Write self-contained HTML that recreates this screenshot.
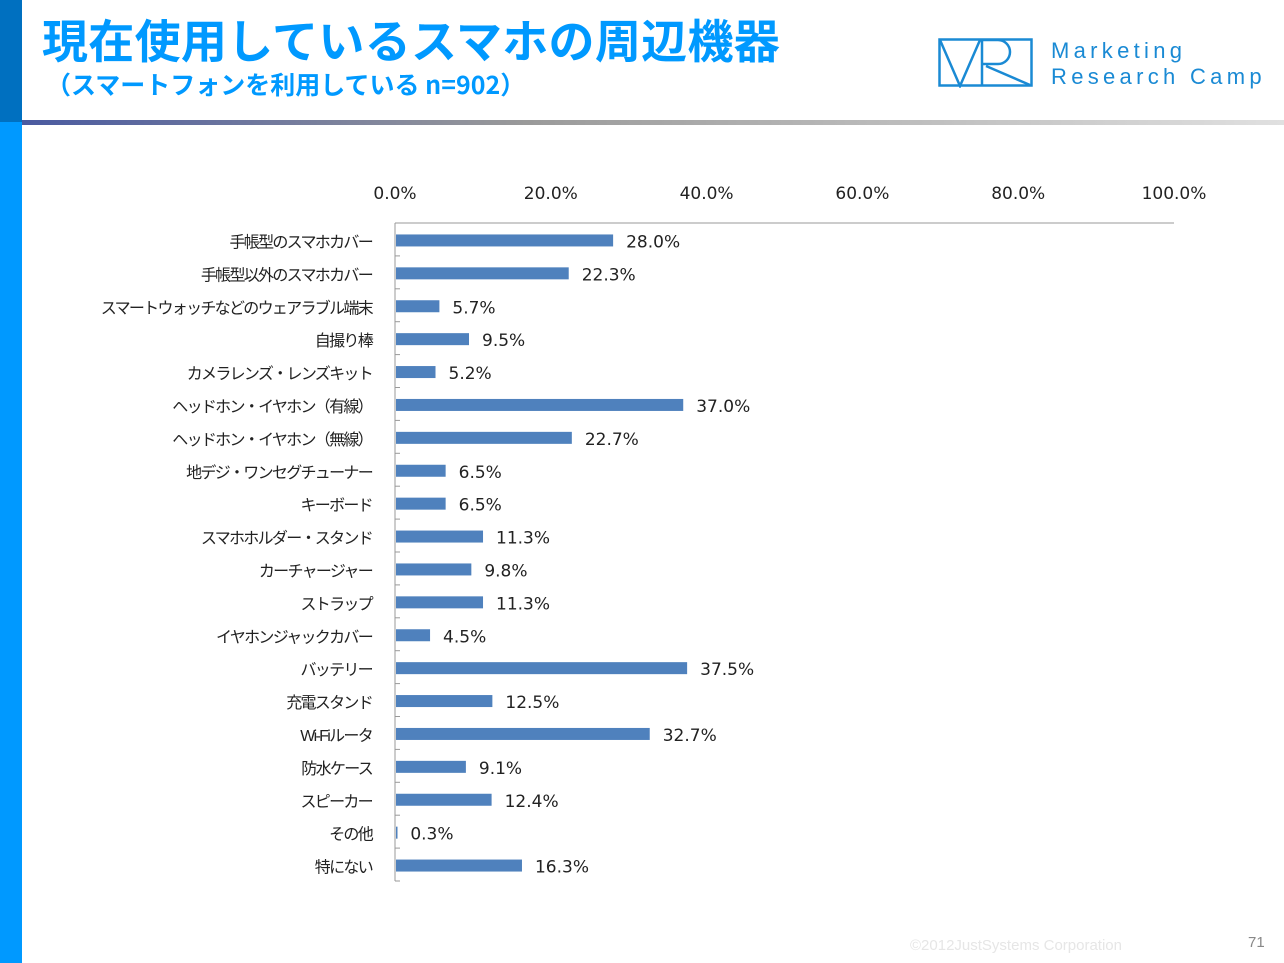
<!DOCTYPE html>
<html><head><meta charset="utf-8">
<style>
body{margin:0;width:1284px;height:963px;background:#fff;overflow:hidden;position:relative;font-family:"Liberation Sans","Noto Sans CJK JP",sans-serif}
.abs{position:absolute}
</style></head><body>
<div class="abs" style="left:0;top:0;width:22px;height:122px;background:#0070c0"></div>
<div class="abs" style="left:0;top:122px;width:22px;height:841px;background:#0099ff"></div>
<div class="abs" style="left:22px;top:120px;width:1262px;height:5px;background:linear-gradient(to right,#4a5aa0,#9a9a9a 40%,#e0e0e0)"></div>
<div class="abs" style="left:42px;top:10px;font-size:46px;letter-spacing:0.3px;font-weight:bold;color:#0099ff;white-space:nowrap;font-family:'Noto Sans CJK JP',sans-serif;line-height:58px">現在使用しているスマホの周辺機器</div>
<div class="abs" style="left:46px;top:67px;font-size:25px;font-weight:bold;color:#0099ff;white-space:nowrap;font-family:'Noto Sans CJK JP',sans-serif;line-height:34px">（スマートフォンを利用している n=902）</div>
<svg class="abs" style="left:938px;top:38px" width="96" height="50">
<rect x="1.5" y="1.5" width="92" height="46" fill="none" stroke="#1a8ad4" stroke-width="2.5"/>
<path d="M2 2 L22 48 L42 2 M44 2 V48 M44 2 H60 A12 12 0 0 1 60 26 H44 M48 28 L92 47" fill="none" stroke="#1a8ad4" stroke-width="2.5"/>
</svg>
<div class="abs" style="left:1051px;top:38px;font-size:22px;letter-spacing:4.3px;color:#1a8ad4;line-height:26px;white-space:nowrap">Marketing<br>Research Camp</div>
<div class="abs" style="left:910px;top:937px;font-size:15px;color:#e6e6e6">©2012JustSystems Corporation</div>
<div class="abs" style="left:1248px;top:934px;font-size:15px;color:#888">71</div>
<svg id="chart" class="abs" style="left:0;top:0" width="1284" height="963"></svg>
<script>
const categories=["手帳型のスマホカバー","手帳型以外のスマホカバー","スマートウォッチなどのウェアラブル端末","自撮り棒","カメラレンズ・レンズキット","ヘッドホン・イヤホン（有線）","ヘッドホン・イヤホン（無線）","地デジ・ワンセグチューナー","キーボード","スマホホルダー・スタンド","カーチャージャー","ストラップ","イヤホンジャックカバー","バッテリー","充電スタンド","Wi-Fiルータ","防水ケース","スピーカー","その他","特にない"];
const values=[28.0,22.3,5.7,9.5,5.2,37.0,22.7,6.5,6.5,11.3,9.8,11.3,4.5,37.5,12.5,32.7,9.1,12.4,0.3,16.3];
const ticks=[0,20,40,60,80,100];
const svg=document.getElementById('chart');const NS='http://www.w3.org/2000/svg';
const X0=395,X1=1174,Y0=223,Y1=881;
const x=v=>X0+(X1-X0)*v/100;
const bandH=(Y1-Y0)/categories.length;
const y=i=>Y0+bandH*(i+0.5);
function mk(t,a){const e=document.createElementNS(NS,t);for(const k in a)e.setAttribute(k,a[k]);svg.appendChild(e);return e;}
let l=mk('line',{x1:X0,y1:Y0,x2:X1,y2:Y0,stroke:'#999','stroke-width':1});


l=mk('line',{x1:X0,y1:Y0,x2:X0,y2:Y1,stroke:'#999','stroke-width':1});


ticks.forEach(t=>{const e=mk('text',{x:x(t),y:199,'text-anchor':'middle','font-size':17,fill:'#222','font-family':'DejaVu Sans, sans-serif'});e.textContent=t.toFixed(1)+'%';

});
for(let i=0;i<=categories.length;i++){const tk=mk('line',{x1:X0,x2:X0+5,y1:Y0+bandH*i,y2:Y0+bandH*i,stroke:'#999'});

}
categories.forEach((c,i)=>{
const r=mk('rect',{x:X0+1,y:y(i)-5,width:Math.max(x(values[i])-X0-1,1.5),height:12,fill:'#4f81bd'});


const v=mk('text',{x:x(values[i])+13,y:y(i)+8,'font-size':17,fill:'#222','font-family':'DejaVu Sans, sans-serif'});v.textContent=values[i].toFixed(1)+'%';


const t=mk('text',{x:372,y:y(i)+8,'text-anchor':'end','font-size':16,'letter-spacing':'-1.7px',fill:'#222','font-family':'Liberation Sans, Noto Sans CJK JP, sans-serif'});t.textContent=c;


});
</script>
</body></html>
